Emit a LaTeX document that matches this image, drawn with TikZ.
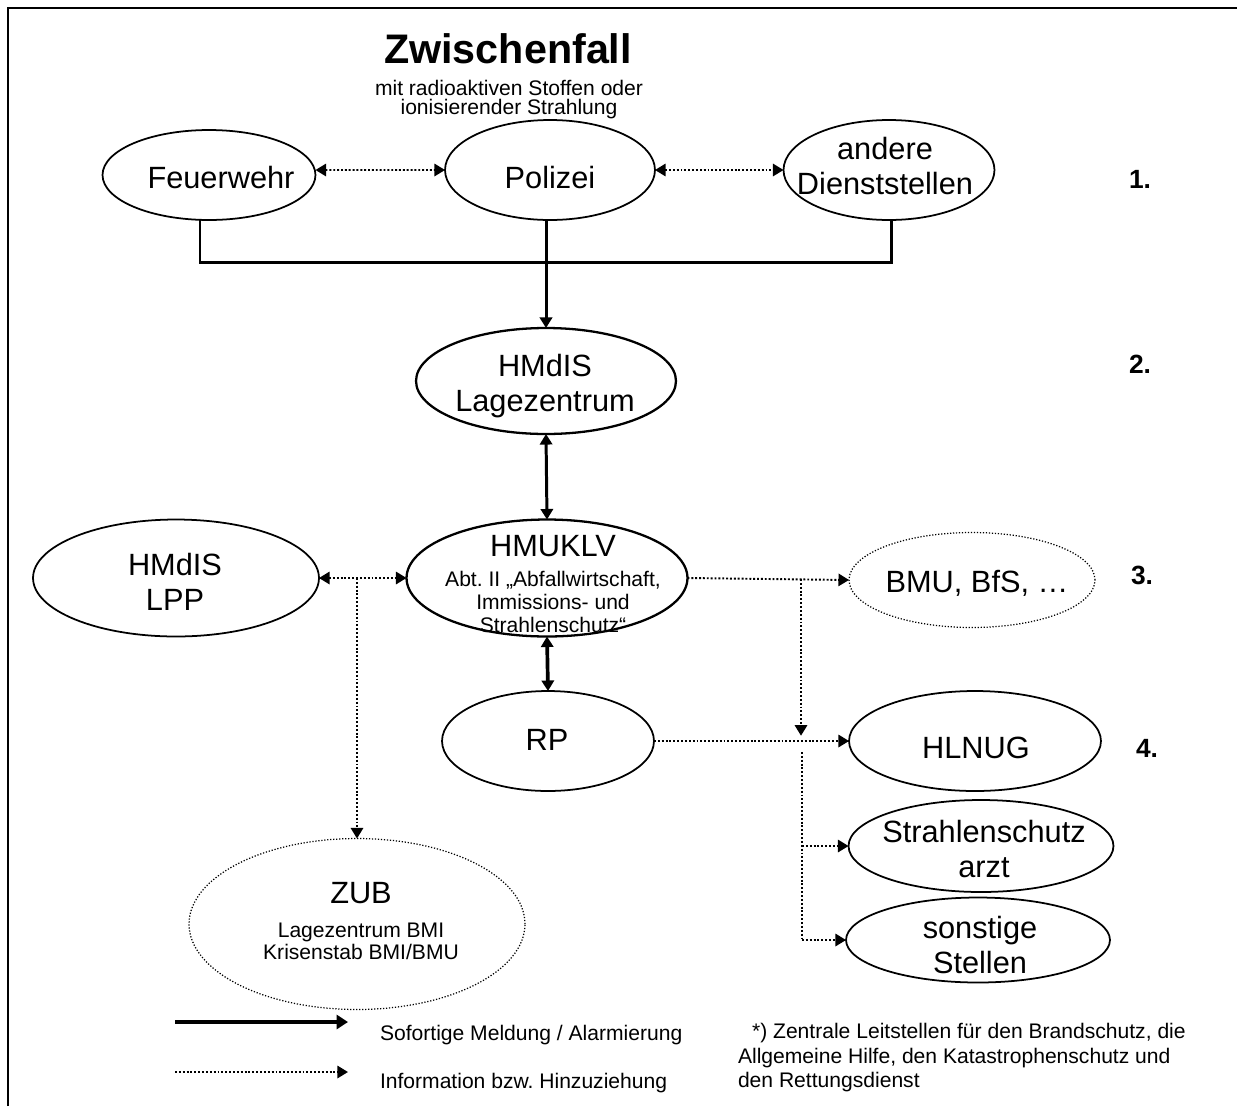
\documentclass[tikz,border=0pt]{standalone}
\usepackage{fontspec}
\setmainfont{Liberation Sans}
\usetikzlibrary{shapes.geometric, arrows.meta}
\newcommand\grossschrift{\fontsize{17.5}{20}\selectfont}
\newcommand\kleinschrift{\fontsize{12}{13}\selectfont}
\frenchspacing

\begin{document}
\begin{tikzpicture}[x=0.02cm, y=-0.02cm, outer sep=0pt, >={Triangle[length=6pt,width=7pt]}]

\tikzstyle{stelle}=[draw, ellipse, line width=1pt, inner sep=0pt]
\tikzstyle{offen}=[stelle, line width=0.7pt, dash pattern=on 0.7pt off 1pt]
\tikzstyle{txt}=[align=center, inner sep=0pt, font=\grossschrift]
\tikzstyle{melde}=[line width=1.7pt]
\tikzstyle{info}=[line width=1.1pt, dash pattern=on 1.1pt off 1.1pt]
\tikzstyle{stufe}=[inner sep=0pt, font=\fontsize{15}{17}\selectfont\bfseries]

\useasboundingbox (0,0) rectangle (1237,1106);
\draw[line width=1.5pt] (8,1106) -- (8,8) -- (1237,8);

\node[inner sep=0pt, font=\fontsize{23.5}{26}\selectfont\bfseries] (titel) at (508,49) {Zwischenfall};
\node[align=center, inner sep=0pt, font=\fontsize{12}{10.8}\selectfont] (untertitel) at (509,100) {mit radioaktiven Stoffen oder\\ionisierender Strahlung};

\node[stelle, minimum width=4.26cm, minimum height=1.8cm] (feuer) at (209,175) {};
\node[stelle, minimum width=4.2cm, minimum height=2cm] (polizei) at (550,170) {};
\node[stelle, minimum width=4.22cm, minimum height=2cm] (andere) at (889,170) {};
\node[txt] (feuer-t) at (221,178) {Feuerwehr}; \node[txt] (polizei-t) at (550,178) {Polizei}; \node[txt] (andere-t) at (885,166) {andere\\Dienststellen};
\node[stufe] (stufe1) at (1140,179) {1.};

\node[stelle, line width=1.3pt, minimum width=5.2cm, minimum height=2.12cm] (lage) at (546,381) {};
\node[txt] (lage-t) at (545,386) {HMdIS\\Lagezentrum};
\node[stufe] (stufe2) at (1140,364) {2.};

\node[stelle, minimum width=5.72cm, minimum height=2.34cm] (lpp) at (176,578) {};
\node[stelle, line width=1.3pt, minimum width=5.62cm, minimum height=2.34cm] (hmukl) at (547,578) {};
\node[offen, minimum width=4.92cm, minimum height=1.9cm] (bmu) at (972,580) {};
\node[txt] (lpp-t) at (175,582) {HMdIS\\LPP};
\node[txt, font=\kleinschrift] (hmukl-t) at (553,584) {{\grossschrift HMUKLV}\\[4pt]Abt. II „Abfallwirtschaft,\\Immissions- und\\Strahlenschutz“};
\node[txt] (bmu-t) at (977,583) {BMU, BfS, …};
\node[stufe] (stufe3) at (1142,575) {3.};

\node[stelle, minimum width=4.24cm, minimum height=2cm] (rp) at (548,741) {};
\node[stelle, minimum width=5.04cm, minimum height=2cm] (hlnug) at (975,741) {};
\node[txt] (rp-t) at (547,740) {RP}; \node[txt] (hlnug-t) at (976,748) {HLNUG};
\node[stufe] (stufe4) at (1147,748) {4.};

\node[stelle, minimum width=5.3cm, minimum height=1.84cm] (arzt) at (981,846) {};
\node[stelle, minimum width=5.28cm, minimum height=1.7cm] (sonst) at (978,940) {};
\node[txt] (arzt-t) at (984,849) {Strahlenschutz\\arzt}; \node[txt] (sonst-t) at (980,945) {sonstige\\Stellen};

\node[offen, minimum width=6.72cm, minimum height=3.42cm] (zub) at (357,924) {};
\node[txt, font=\fontsize{12}{12.5}\selectfont] (zub-t) at (361,921) {{\grossschrift ZUB}\\[7.3pt]Lagezentrum BMI\\Krisenstab BMI/BMU};

\coordinate (bus) at (550,262);
\coordinate (zubabz) at (357,578);
\coordinate (bmuabz) at (801,579);
\coordinate (rplinie) at (801,741);
\coordinate (verteiler) at (802,752);

\draw[info, <->] ([yshift=0.1cm]feuer.east) -- (polizei.west);
\draw[info, <->] (polizei.east) -- (andere.west);
\draw[melde] ([xshift=-0.18cm]feuer.south) |- (bus) -| ([xshift=0.04cm]andere.south);
\draw[melde, ->] (polizei.south -| lage.north) -- (lage.north);
\draw[melde, <->] (lage.south) -- (hmukl.north);
\draw[info, <->] (lpp.east) -- (hmukl.west);
\draw[info, ->] (zubabz) -- (zub.north);
\draw[info, ->] (hmukl.east) -- (bmu.west);
\draw[info, ->, shorten >=3pt] (bmuabz) -- (rplinie);
\draw[melde, line width=2.1pt, <->] (hmukl.south) -- (rp.north);
\draw[info, ->] (rp.east) -- (hlnug.west);
\draw[info] (verteiler) -- (verteiler |- sonst);
\draw[info, ->] (verteiler |- arzt) -- (arzt.west);
\draw[info, ->] (verteiler |- sonst) -- (sonst.west);

\coordinate (leg1a) at (175,1022); \coordinate (leg1b) at (348,1022);
\coordinate (leg2a) at (175,1072); \coordinate (leg2b) at (348,1072);
\draw[melde, line width=2.2pt, -{Triangle[length=6.5pt,width=8pt]}] (leg1a) -- (leg1b);
\draw[info, ->] (leg2a) -- (leg2b);
\node[anchor=base west, inner sep=0pt, font=\kleinschrift] (leg1-t) at (380,1040) {Sofortige Meldung / Alarmierung};
\node[anchor=base west, inner sep=0pt, font=\kleinschrift] (leg2-t) at (380,1088) {Information bzw. Hinzuziehung};
\node[anchor=north west, align=left, inner sep=0pt, font=\fontsize{12}{13.9}\selectfont] (fussnote) at (738,1023.5) {\hspace*{8pt}*) Zentrale Leitstellen für den Brandschutz, die\\Allgemeine Hilfe, den Katastrophenschutz und\\den Rettungsdienst};

\end{tikzpicture}
\end{document}
